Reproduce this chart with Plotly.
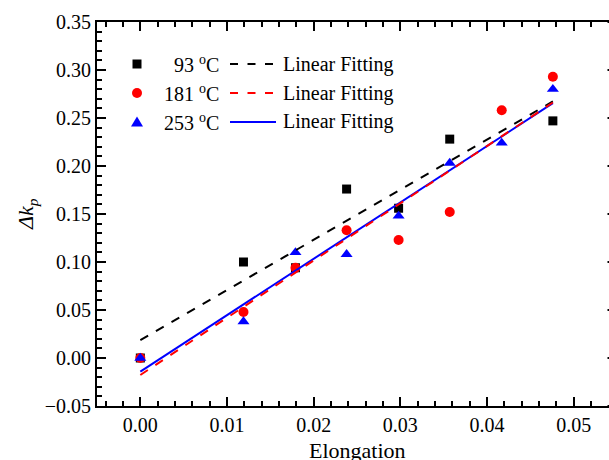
import numpy as np
import plotly.graph_objects as go

# Measured data: change of kp versus elongation at three temperatures
elong_93 = [0.0, 0.0119, 0.0179, 0.0238, 0.0298, 0.0357, 0.0476]
dkp_93 = [0.000, 0.100, 0.094, 0.176, 0.156, 0.228, 0.247]

elong_181 = [0.0, 0.0119, 0.0179, 0.0238, 0.0298, 0.0357, 0.0417, 0.0476]
dkp_181 = [0.000, 0.048, 0.094, 0.133, 0.123, 0.152, 0.258, 0.293]

elong_253 = [0.0, 0.0119, 0.0179, 0.0238, 0.0298, 0.0357, 0.0417, 0.0476]
dkp_253 = [0.000, 0.038, 0.110, 0.108, 0.148, 0.203, 0.224, 0.280]

series_labels = ["93 <sup>o</sup>C", "181 <sup>o</sup>C", "253 <sup>o</sup>C"]
fit_label = "Linear Fitting"
x_title = "Elongation"
y_title = "<i>Δk</i><sub><i>p</i></sub>"

x_ticks = [0.00, 0.01, 0.02, 0.03, 0.04, 0.05]
y_ticks = [-0.05, 0.00, 0.05, 0.10, 0.15, 0.20, 0.25, 0.30, 0.35]

FONT = "Liberation Serif, Times New Roman, serif"
W, H = 609, 460
L, R, T, B = 97, 0, 22, 54
PW, PH = W - L - R, H - T - B


def fx(px):
    return (px - L) / PW


def fy(py):
    return (T + PH - py) / PH


series = [
    (elong_93, dkp_93, "black", "square", 9, "9px,9px"),
    (elong_181, dkp_181, "red", "circle", 10, "9px,9px"),
    (elong_253, dkp_253, "blue", "triangle-up", 10.5, "solid"),
]

fig = go.Figure()

# scatter points
for (xs, ys, color, symbol, size, _), name in zip(series, series_labels):
    fig.add_trace(go.Scatter(
        x=xs, y=ys, mode="markers", name=name, showlegend=False,
        marker=dict(symbol=symbol, size=size, color=color, line=dict(width=0)),
        cliponaxis=False,
    ))

# least-squares fits drawn over the data range
for idx in [0, 2, 1]:
    xs, ys, color, _, _, dash = series[idx]
    slope, intercept = np.polyfit(xs, ys, 1)
    xf = np.array([min(xs), max(xs)])
    fig.add_trace(go.Scatter(
        x=xf, y=intercept + slope * xf, mode="lines", showlegend=False,
        line=dict(color=color, width=2, dash=dash),
    ))

shapes = []
annotations = []

# legend block: symbol, temperature, line sample, "Linear Fitting"
rows_y = [64, 93, 122]
sym_x = 137
for (xs, ys, color, symbol, size, dash), label, ry in zip(series, series_labels, rows_y):
    if symbol == "square":
        h = 4.5
        shapes.append(dict(type="rect", xref="paper", yref="paper",
                           x0=fx(sym_x - h), x1=fx(sym_x + h), y0=fy(ry + h), y1=fy(ry - h),
                           fillcolor=color, line=dict(width=0)))
    elif symbol == "circle":
        h = 5
        shapes.append(dict(type="circle", xref="paper", yref="paper",
                           x0=fx(sym_x - h), x1=fx(sym_x + h), y0=fy(ry + h), y1=fy(ry - h),
                           fillcolor=color, line=dict(width=0)))
    else:
        path = "M{},{} L{},{} L{},{} Z".format(
            fx(sym_x - 6), fy(ry + 4.5), fx(sym_x + 6), fy(ry + 4.5), fx(sym_x), fy(ry - 5.5))
        shapes.append(dict(type="path", xref="paper", yref="paper", path=path,
                           fillcolor=color, line=dict(width=0)))
    sample_dash = "8px,9.5px" if dash != "solid" else "solid"
    shapes.append(dict(type="line", xref="paper", yref="paper",
                       x0=fx(230), x1=fx(276), y0=fy(ry), y1=fy(ry),
                       line=dict(color=color, width=2, dash=sample_dash)))
    annotations.append(dict(text=label, xref="paper", yref="paper", x=fx(220), y=fy(ry),
                            xanchor="right", yanchor="middle", showarrow=False, borderpad=0,
                            font=dict(family=FONT, size=20, color="black")))
    annotations.append(dict(text=fit_label, xref="paper", yref="paper", x=fx(282), y=fy(ry),
                            xanchor="left", yanchor="middle", showarrow=False, borderpad=0,
                            font=dict(family=FONT, size=20, color="black")))

# axis titles
annotations.append(dict(text=x_title, xref="paper", yref="paper", x=fx(357), y=fy(437),
                        xanchor="center", yanchor="top", showarrow=False, borderpad=0,
                        font=dict(family=FONT, size=22, color="black")))
annotations.append(dict(text=y_title, xref="paper", yref="paper", x=fx(27), y=fy(214),
                        xanchor="center", yanchor="middle", textangle=-90, showarrow=False,
                        borderpad=0, font=dict(family=FONT, size=22, color="black")))

# inward major ticks of the right frame edge
for v in y_ticks:
    shapes.append(dict(type="line", xref="paper", yref="y", x0=fx(607.5), x1=fx(610),
                       y0=v, y1=v, line=dict(color="black", width=2)))

axis_common = dict(
    showgrid=False, zeroline=False, showline=True, linecolor="black", linewidth=2,
    ticks="inside", ticklen=9, tickwidth=2, tickcolor="black",
    tickfont=dict(family=FONT, size=20, color="black"), tickformat=".2f",
)

fig.update_layout(
    width=W, height=H,
    margin=dict(l=L, r=R, t=T, b=B, pad=0),
    paper_bgcolor="white", plot_bgcolor="white",
    showlegend=False,
    shapes=shapes, annotations=annotations,
    xaxis=dict(range=[-0.005, -0.005 + PW / 8666.7], tickvals=x_ticks, mirror="ticks",
               minor=dict(ticks="inside", ticklen=5, tickwidth=1.5, tickcolor="black",
                          dtick=0.002, tick0=0, showgrid=False),
               **axis_common),
    yaxis=dict(range=[-0.05, 0.35], tickvals=y_ticks, mirror=False,
               minor=dict(ticks="inside", ticklen=5, tickwidth=1.5, tickcolor="black",
                          dtick=0.01, tick0=0, showgrid=False),
               **axis_common),
)

fig.write_html("out.html", config={"displayModeBar": False})
